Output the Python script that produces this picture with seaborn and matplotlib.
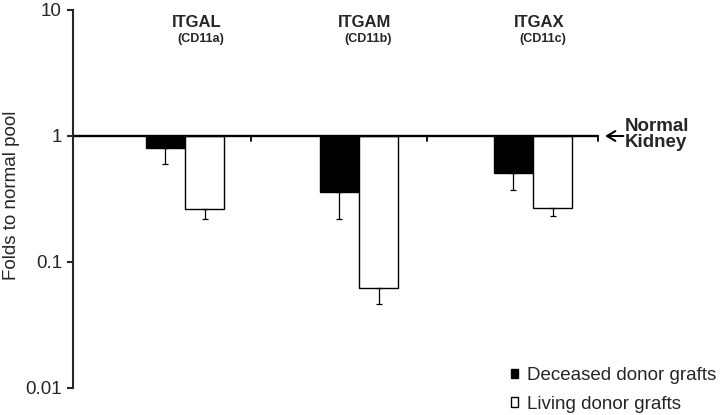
# Integrin alpha chain expression in grafts, relative to normal kidney pool
import seaborn as sns
import pandas as pd
import matplotlib.pyplot as plt
from matplotlib.patches import Patch
from matplotlib.ticker import NullLocator

genes = ["ITGAL", "ITGAM", "ITGAX"]
cd_names = ["(CD11a)", "(CD11b)", "(CD11c)"]
groups = ["Deceased donor grafts", "Living donor grafts"]
deceased = [0.81, 0.36, 0.51]
deceased_low = [0.60, 0.22, 0.37]
living = [0.265, 0.062, 0.27]
living_low = [0.218, 0.046, 0.23]
yticks = [0.01, 0.1, 1, 10]
ytick_labels = ["0.01", "0.1", "1", "10"]
colors = ["black", "white"]

df = pd.DataFrame({
    "gene": genes * 2,
    "group": [groups[0]] * 3 + [groups[1]] * 3,
    "value": deceased + living,
    "low": deceased_low + living_low,
})

sns.set_style("ticks")
plt.rcParams["font.family"] = ["Liberation Sans", "DejaVu Sans"]

fig = plt.figure(figsize=(7.2, 4.15), dpi=100)
ax = fig.add_axes([73 / 720, 27 / 415, 525 / 720, 378 / 415])

sns.barplot(data=df, x="gene", y="value", hue="group", order=genes,
            hue_order=groups, palette=colors, saturation=1, width=0.45,
            edgecolor="black", linewidth=1.0, errorbar=None, legend=False, ax=ax)

# bars hang down from 1 (the normal pool level)
for p in ax.patches:
    v = p.get_height()
    p.set_y(min(v, 1))
    p.set_height(abs(1 - v))

ax.set_yscale("log")

# lower error bars only
offs = [-0.1125, 0.1125]
for j, (vals, lows) in enumerate([(deceased, deceased_low), (living, living_low)]):
    xs = [i + offs[j] for i in range(len(genes))]
    err = [[v - lo for v, lo in zip(vals, lows)], [0] * len(vals)]
    ax.errorbar(xs, vals, yerr=err, fmt="none", ecolor="black",
                elinewidth=0.9, capsize=2.5, capthick=0.9)

x_left, x_right = -0.644, 2.374
ax.set_xlim(x_left, x_right)
ax.set_ylim(0.01, 10)

# baseline at 1 with small separators
ax.plot([x_left, x_right], [1, 1], color="black", lw=1.7, clip_on=False)
for xt in [0.379, 1.391, x_right]:
    ax.plot([xt, xt], [1, 0.915], color="black", lw=1.3, clip_on=False)

ax.set_yticks(yticks)
ax.set_yticklabels(ytick_labels)
ax.yaxis.set_minor_locator(NullLocator())
ax.tick_params(axis="y", length=4, width=1.5, pad=4, labelsize=13.5)
ax.set_xticks([])
ax.set_xlabel("")
ax.set_ylabel("")
ax.spines["left"].set_linewidth(1.5)
for s in ["top", "right", "bottom"]:
    ax.spines[s].set_visible(False)

fig.text(12 / 720, 1 - 195 / 415, "Folds to normal pool", rotation=90,
         ha="center", va="center", fontsize=13.5)

tr = ax.get_xaxis_transform()
label_dx = [0.07, 0.03, 0.035]
for i, (g, cd) in enumerate(zip(genes, cd_names)):
    ax.text(i + label_dx[i], 0.968, g, transform=tr, ha="center", va="center",
            fontsize=12, fontweight="bold")
    ax.text(i + label_dx[i] + 0.02, 0.923, cd, transform=tr, ha="center",
            va="center", fontsize=9, fontweight="bold")

ax.annotate("", xy=(2.414, 1), xytext=(2.52, 1),
            arrowprops=dict(arrowstyle="->,head_length=0.6,head_width=0.35",
                            lw=1.5, color="black", shrinkA=0, shrinkB=0),
            annotation_clip=False)
ax.text(2.529, 0.680, "Normal", transform=tr, ha="left", va="baseline",
        fontsize=13.5, fontweight="bold")
ax.text(2.529, 0.6376, "Kidney", transform=tr, ha="left", va="baseline",
        fontsize=13.5, fontweight="bold")

handles = [Patch(facecolor=c, edgecolor="black", linewidth=1.0) for c in colors]
fig.legend(handles, groups, loc="upper left",
           bbox_to_anchor=(511 / 720, 1 - 367 / 415), frameon=False,
           fontsize=13.5, handlelength=0.38, handleheight=0.38,
           handletextpad=0.45, labelspacing=0.62, borderpad=0, borderaxespad=0)

fig.savefig("out.png", dpi=100)
